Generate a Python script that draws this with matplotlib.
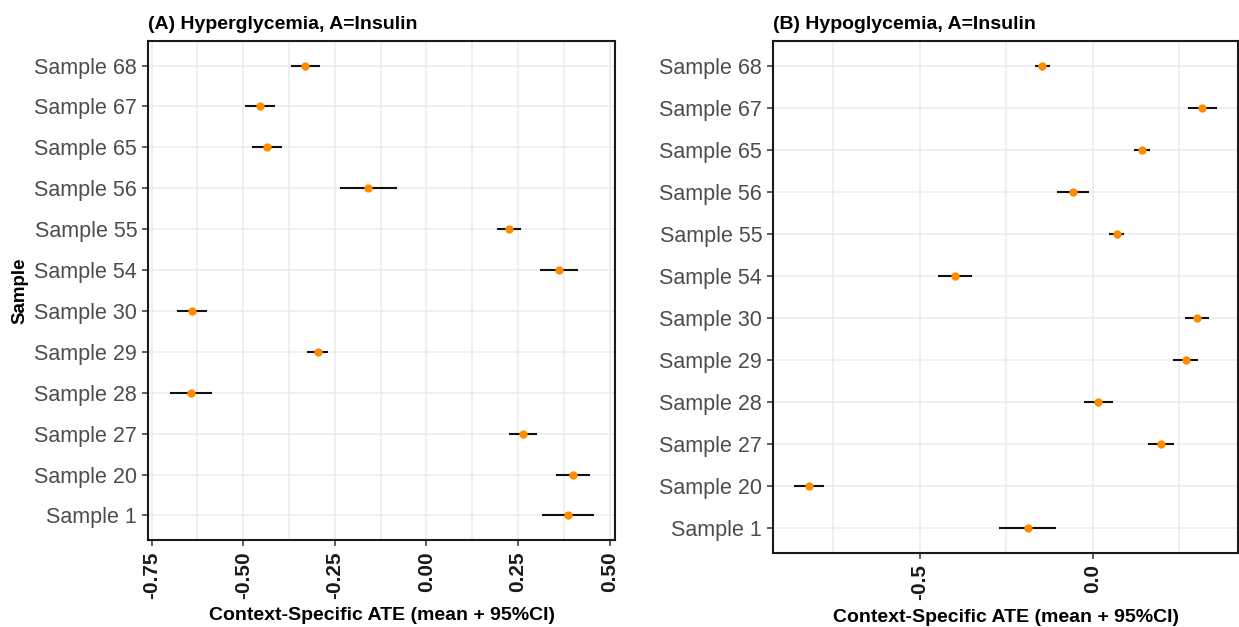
import matplotlib.pyplot as plt
import numpy as np

plt.rcParams['font.family'] = ['Liberation Sans', 'DejaVu Sans']

samples = ['Sample 1', 'Sample 20', 'Sample 27', 'Sample 28', 'Sample 29', 'Sample 30',
           'Sample 54', 'Sample 55', 'Sample 56', 'Sample 65', 'Sample 67', 'Sample 68']

# Hyperglycemia, A=Insulin
hyper_mean = [0.386, 0.400, 0.263, -0.643, -0.297, -0.641,
              0.361, 0.225, -0.158, -0.436, -0.455, -0.330]
hyper_lo = [0.316, 0.355, 0.225, -0.701, -0.326, -0.680,
            0.311, 0.192, -0.235, -0.477, -0.495, -0.369]
hyper_hi = [0.457, 0.446, 0.303, -0.585, -0.268, -0.600,
            0.413, 0.258, -0.080, -0.393, -0.414, -0.290]

# Hypoglycemia, A=Insulin
hypo_mean = [-0.187, -0.819, 0.197, 0.015, 0.268, 0.300,
             -0.399, 0.069, -0.058, 0.143, 0.316, -0.147]
hypo_lo = [-0.270, -0.862, 0.159, -0.026, 0.233, 0.265,
           -0.448, 0.048, -0.104, 0.120, 0.275, -0.168]
hypo_hi = [-0.105, -0.777, 0.235, 0.059, 0.304, 0.336,
           -0.350, 0.090, -0.011, 0.165, 0.359, -0.125]

hyper_major = [-0.75, -0.5, -0.25, 0.0, 0.25, 0.5]
hyper_minor = [-0.625, -0.375, -0.125, 0.125, 0.375]
hyper_labels = ['-0.75', '-0.50', '-0.25', '0.00', '0.25', '0.50']
hypo_major = [-0.5, 0.0]
hypo_minor = [-0.75, -0.25, 0.25]
hypo_labels = ['-0.5', '0.0']

fig = plt.figure(figsize=(12.39, 6.27), dpi=100)
ax1 = fig.add_axes([0.1197, 0.1388, 0.3767, 0.7958])
ax2 = fig.add_axes([0.6241, 0.1175, 0.3753, 0.8171])


def forest(ax, mean, lo, hi, major, minor, labels, title, ylabel=None):
    y = np.arange(len(samples))
    lo = np.array(lo)
    hi = np.array(hi)
    ax.hlines(y, lo, hi, color='#111111', linewidth=1.5, zorder=3)
    ax.plot(mean, y, 'o', color='#FF8C00', markersize=6, markeredgewidth=0, zorder=4)

    span = hi.max() - lo.min()
    ax.set_xlim(lo.min() - 0.05 * span, hi.max() + 0.05 * span)
    ax.set_ylim(-0.6, len(samples) - 0.4)

    ax.set_yticks(y)
    ax.set_yticklabels(samples, fontsize=15.5, color='#4D4D4D')
    ax.set_xticks(major)
    ax.set_xticklabels(labels, rotation=90, fontsize=15, fontweight='bold',
                       color='#1a1a1a', va='top', ha='center')
    ax.set_xticks(minor, minor=True)
    ax.tick_params(axis='x', which='minor', length=0)
    ax.tick_params(axis='both', which='major', length=4, width=1.1, color='#333333', pad=4)

    ax.grid(True, which='both', color='#EBEBEB', linewidth=1.1, zorder=0)
    ax.set_axisbelow(True)
    for s in ax.spines.values():
        s.set_color('#1a1a1a')
        s.set_linewidth(1.5)

    ax.set_xlabel('Context-Specific ATE (mean + 95%CI)', fontsize=14, fontweight='bold', labelpad=6)
    if ylabel:
        ax.set_ylabel(ylabel, fontsize=13.5, fontweight='bold', labelpad=4)
    ax.set_title(title, fontsize=14, fontweight='bold', loc='left', pad=9)


forest(ax1, hyper_mean, hyper_lo, hyper_hi, hyper_major, hyper_minor, hyper_labels,
       '(A) Hyperglycemia, A=Insulin', ylabel='Sample')
forest(ax2, hypo_mean, hypo_lo, hypo_hi, hypo_major, hypo_minor, hypo_labels,
       '(B) Hypoglycemia, A=Insulin')

fig.savefig('out.png', dpi=100, facecolor='white')
